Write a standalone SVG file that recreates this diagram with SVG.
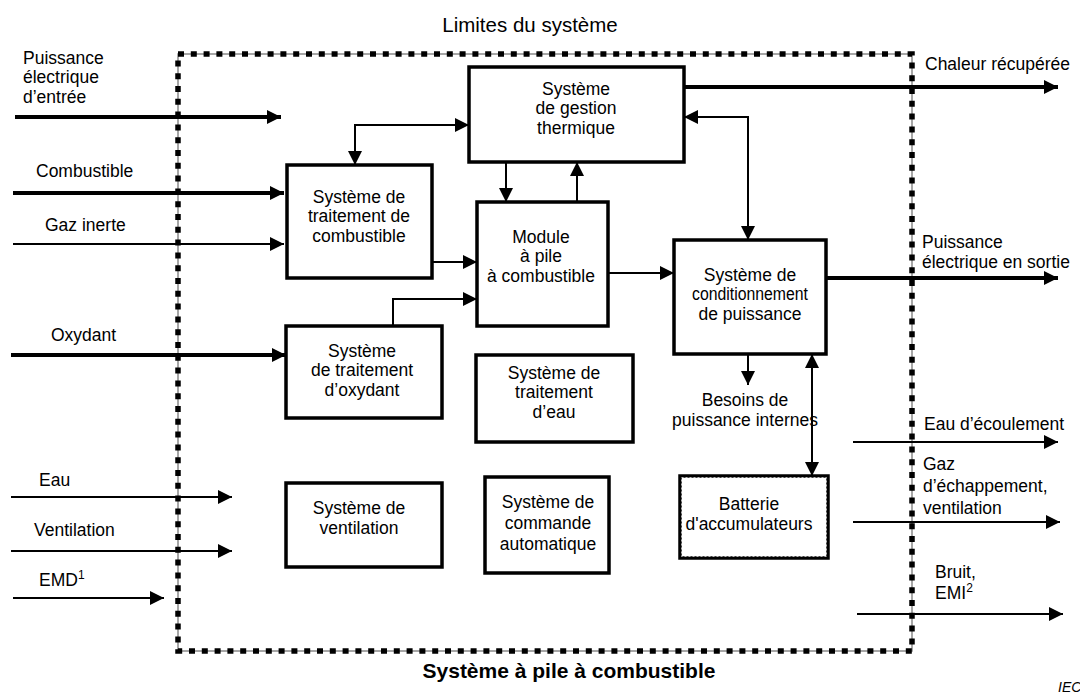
<svg xmlns="http://www.w3.org/2000/svg" width="1080" height="693" viewBox="0 0 1080 693">
<defs>
<marker id="ah" viewBox="0 0 14 14" markerWidth="14" markerHeight="14" markerUnits="userSpaceOnUse" refX="14" refY="7" orient="auto-start-reverse">
<path d="M0,0 L14,7 L0,14 z" fill="#000"/>
</marker>
</defs>
<style>
text{font-family:"Liberation Sans",Arial,sans-serif;fill:#000}
.t{font-size:17.5px}
.c{text-anchor:middle}
.box{fill:#fff;stroke:#000;stroke-width:3.5}
.thin{fill:none;stroke:#000;stroke-width:2}
.thick{fill:none;stroke:#000;stroke-width:4}
.a{marker-end:url(#ah)}
.ab{marker-start:url(#ah);marker-end:url(#ah)}
.sup{font-size:12px}
</style>
<rect width="1080" height="693" fill="#fff"/>

<g id="boundary">
<rect x="178" y="54" width="734" height="597" fill="none" stroke="#8a8a8a" stroke-width="1.5"/>
<rect x="178" y="54" width="734" height="597" fill="none" stroke="#000" stroke-width="5.5" stroke-dasharray="6 6.8"/>
<text class="c" x="530" y="32" style="font-size:20.5px">Limites du système</text>
<text class="c" x="569" y="678" style="font-size:21px;font-weight:bold">Système à pile à combustible</text>
</g>

<g id="connectors">
<line class="thick a" x1="15" y1="117" x2="281" y2="117"/>
<line class="thick a" x1="13" y1="193" x2="284" y2="193"/>
<line class="thin a" x1="13" y1="244" x2="284" y2="244"/>
<line class="thick a" x1="11" y1="355" x2="286" y2="355"/>
<line class="thin a" x1="11" y1="497" x2="232" y2="497"/>
<line class="thin a" x1="11" y1="551" x2="232" y2="551"/>
<line class="thin a" x1="13" y1="598" x2="164" y2="598"/>
<line class="thick a" x1="684" y1="87" x2="1058" y2="87"/>
<line class="thick a" x1="826" y1="278" x2="1058" y2="278"/>
<line class="thin a" x1="853" y1="442" x2="1058" y2="442"/>
<line class="thin a" x1="853" y1="522" x2="1060" y2="522"/>
<line class="thin a" x1="857" y1="614" x2="1063" y2="614"/>
<polyline class="thin ab" points="355,165 355,125 469,125"/>
<line class="thin a" x1="506" y1="162" x2="506" y2="202"/>
<line class="thin a" x1="577" y1="202" x2="577" y2="162"/>
<line class="thin a" x1="432" y1="262" x2="477" y2="262"/>
<polyline class="thin a" points="393,326 393,299 477,299"/>
<line class="thin a" x1="608" y1="273" x2="674" y2="273"/>
<polyline class="thin ab" points="684,117 748,117 748,240"/>
<line class="thin a" x1="748" y1="354" x2="748" y2="385"/>
<line class="thin ab" x1="812" y1="354" x2="812" y2="476"/>
</g>

<g id="labels">
<text class="t" x="23" y="63.5">Puissance</text>
<text class="t" x="23" y="83">électrique</text>
<text class="t" x="23" y="102.5">d’entrée</text>
<text class="t" x="36" y="177">Combustible</text>
<text class="t" x="45" y="231">Gaz inerte</text>
<text class="t" x="51" y="341">Oxydant</text>
<text class="t" x="39" y="486">Eau</text>
<text class="t" x="34" y="536">Ventilation</text>
<text class="t" x="39" y="586">EMD<tspan class="sup" dy="-7">1</tspan></text>
<text class="t" x="925" y="70">Chaleur récupérée</text>
<text class="t" x="922" y="248">Puissance</text>
<text class="t" x="922" y="267.5">électrique en sortie</text>
<text class="t c" x="745" y="406">Besoins de</text>
<text class="t c" x="745" y="425.5">puissance internes</text>
<text class="t" x="924" y="430">Eau d’écoulement</text>
<text class="t" x="923" y="470">Gaz</text>
<text class="t" x="923" y="492">d’échappement,</text>
<text class="t" x="923" y="514">ventilation</text>
<text class="t" x="935" y="578">Bruit,</text>
<text class="t" x="935" y="599">EMI<tspan class="sup" dy="-7">2</tspan></text>
<text x="1058" y="692" style="font-size:14px;font-style:italic">IEC</text>
</g>

<g id="thermal">
<rect class="box" x="469" y="67" width="215" height="95"/>
<text class="t c" x="576" y="94.5">Système</text>
<text class="t c" x="576" y="114">de gestion</text>
<text class="t c" x="576" y="133.5">thermique</text>
</g>

<g id="fuel-processing">
<rect class="box" x="287" y="165" width="145" height="113"/>
<text class="t c" x="359" y="202.5">Système de</text>
<text class="t c" x="359" y="222">traitement de</text>
<text class="t c" x="359" y="241.5">combustible</text>
</g>

<g id="module">
<rect class="box" x="477" y="202" width="131" height="124"/>
<text class="t c" x="541" y="242.5">Module</text>
<text class="t c" x="541" y="262">à pile</text>
<text class="t c" x="541" y="281.5">à combustible</text>
</g>

<g id="power-conditioning">
<rect class="box" x="674" y="240" width="152" height="114"/>
<text class="t c" x="750" y="280.5">Système de</text>
<text class="t c" x="750" y="300" textLength="116" lengthAdjust="spacingAndGlyphs">conditionnement</text>
<text class="t c" x="750" y="319.5">de puissance</text>
</g>

<g id="oxidant-processing">
<rect class="box" x="286" y="326" width="156" height="92"/>
<text class="t c" x="362" y="356.5">Système</text>
<text class="t c" x="362" y="376">de traitement</text>
<text class="t c" x="362" y="395.5">d’oxydant</text>
</g>

<g id="water-treatment">
<rect class="box" x="476" y="355" width="157" height="87"/>
<text class="t c" x="554" y="378.5">Système de</text>
<text class="t c" x="554" y="398">traitement</text>
<text class="t c" x="554" y="417.5">d’eau</text>
</g>

<g id="ventilation-system">
<rect class="box" x="286" y="483" width="156" height="84"/>
<text class="t c" x="359" y="514.25">Système de</text>
<text class="t c" x="359" y="533.75">ventilation</text>
</g>

<g id="automatic-control">
<rect class="box" x="485" y="477" width="124" height="96"/>
<text class="t c" x="548" y="508">Système de</text>
<text class="t c" x="548" y="529">commande</text>
<text class="t c" x="548" y="550">automatique</text>
</g>

<g id="battery">
<rect class="box" x="680" y="476" width="148" height="82"/>
<rect x="681.5" y="477.5" width="145" height="79" fill="none" stroke="#bbb" stroke-width="1" stroke-dasharray="2 2"/>
<text class="t c" x="749" y="510">Batterie</text>
<text class="t c" x="749" y="530">d'accumulateurs</text>
</g>
</svg>
